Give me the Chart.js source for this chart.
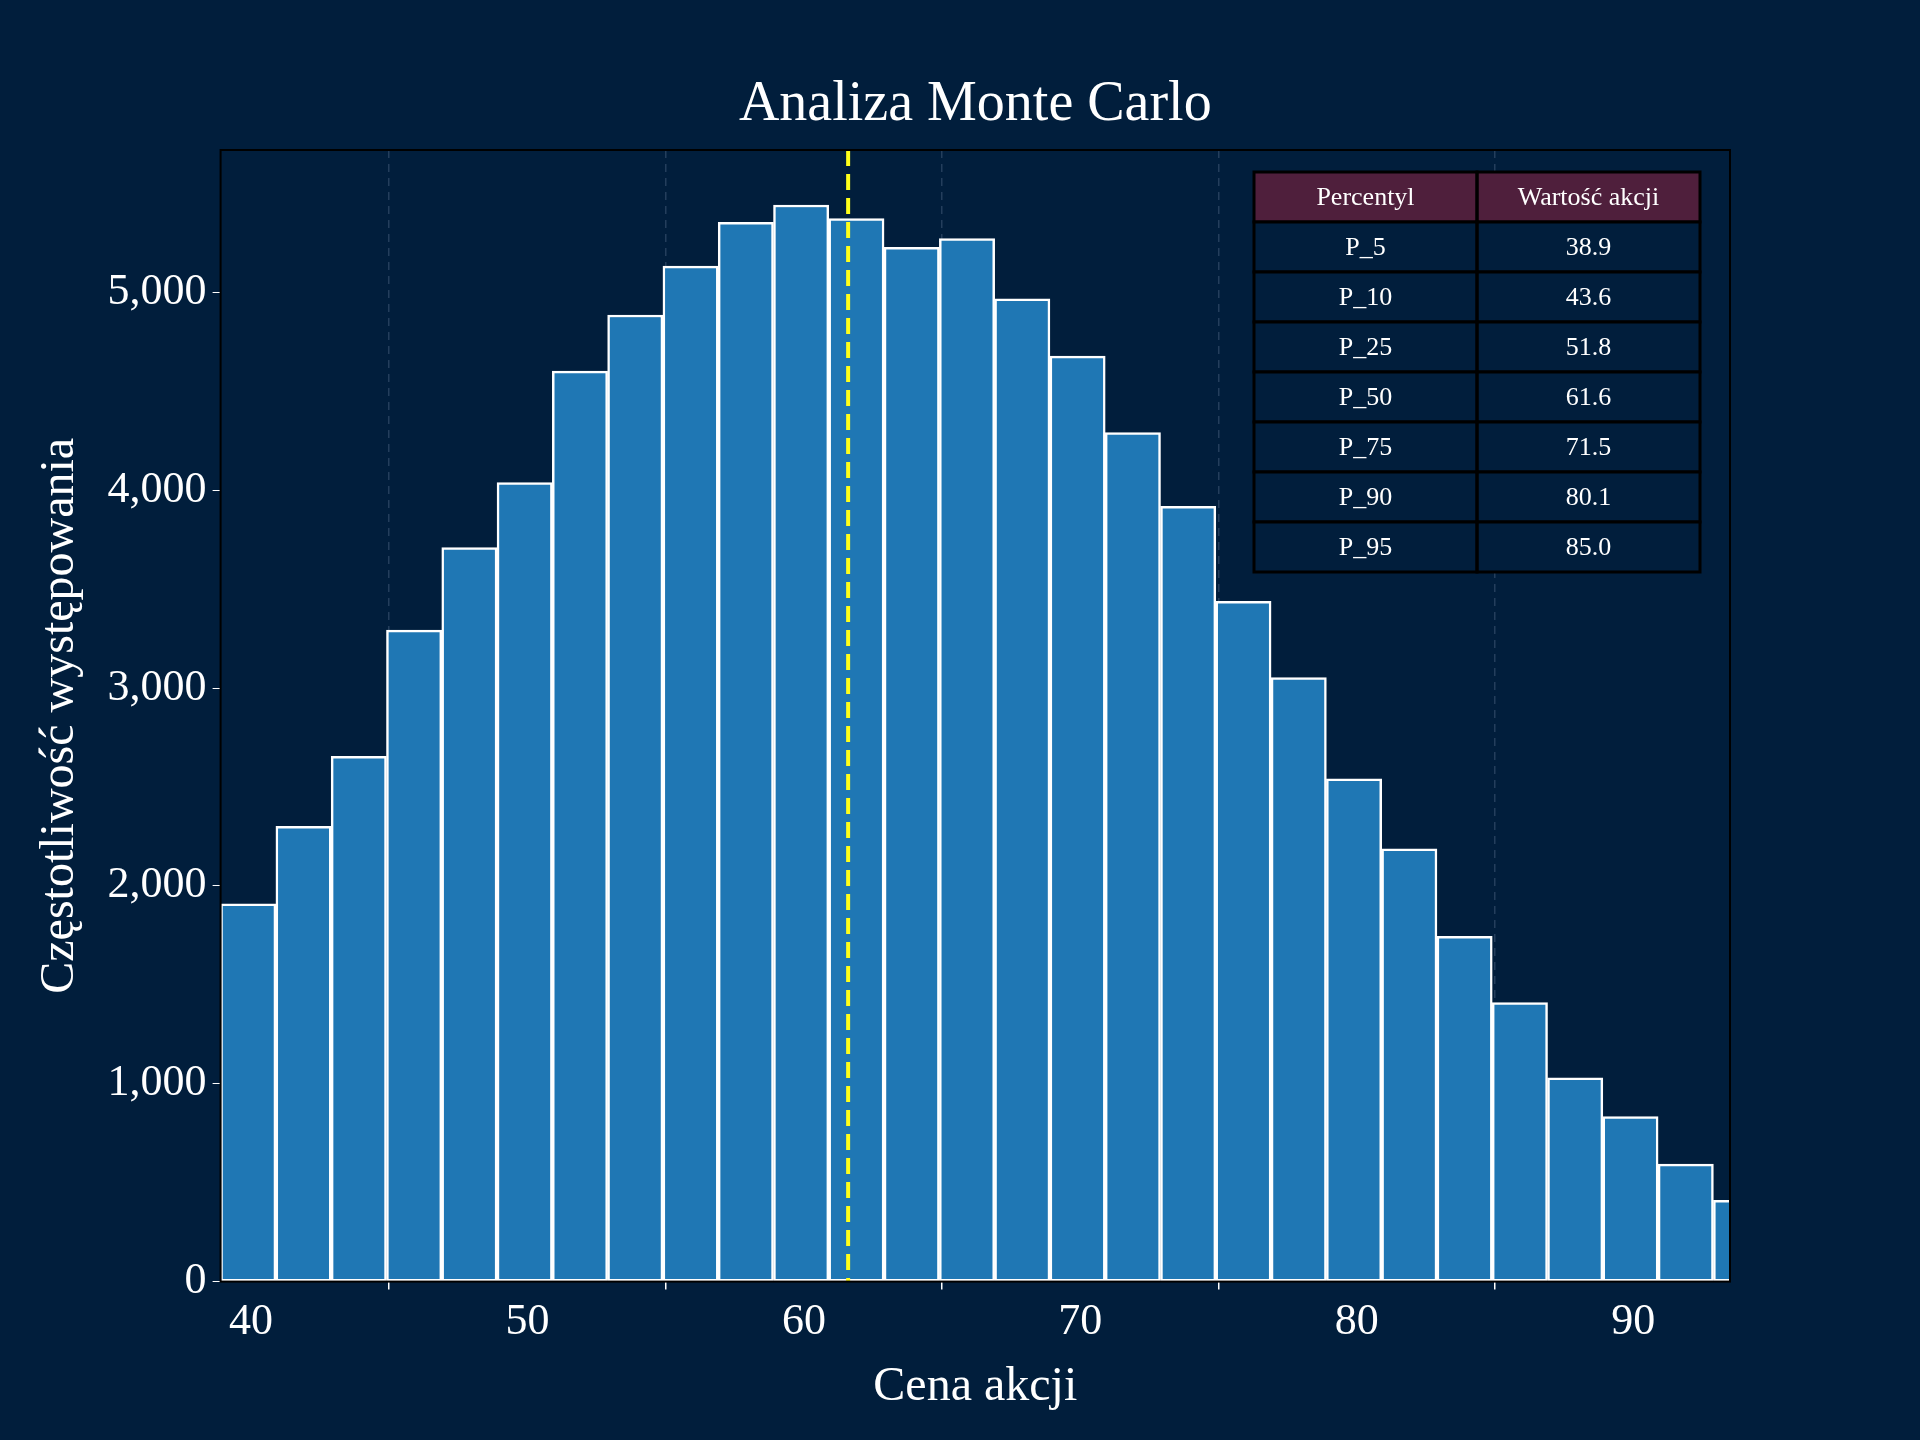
<!DOCTYPE html>
<html><head><meta charset="utf-8">
<script src="https://cdn.jsdelivr.net/npm/chart.js@4"></script>
<style>html,body{margin:0;padding:0;background:#011e3c;}#w{width:1920px;height:1440px;}</style>
</head><body><div id="w"><canvas id="c"></canvas></div>
<script>
const binCenters=[39.9,41.9,43.9,45.9,47.9,49.9,51.9,53.9,55.9,57.9,59.9,61.9,63.9,65.9,67.9,69.9,71.9,73.9,75.9,77.9,79.9,81.9,83.9,85.9,87.9,89.9,91.9,93.9];
const counts=[1909,2301,2655,3293,3710,4039,4602,4886,5133,5354,5442,5373,5228,5272,4968,4678,4292,3919,3439,3053,2541,2187,1745,1410,1030,834,594,411];
const xTicks=[40,50,60,70,80,90];
const yTicks=[0,1000,2000,3000,4000,5000];
const percentileLabels=["P_5","P_10","P_25","P_50","P_75","P_90","P_95"];
const percentileValues=["38.9","43.6","51.8","61.6","71.5","80.1","85.0"];
const medianValue=61.6;
const titleText='Analiza Monte Carlo';
const FONT="'Liberation Serif','Times New Roman',serif";

const extras={id:'extras',
 afterDatasetsDraw(ch){
  const {ctx,chartArea:a,scales:{x}}=ch;
  ctx.save();
  ctx.beginPath();ctx.rect(a.left,a.top,a.right-a.left,a.bottom-a.top);ctx.clip();
  const px=x.getPixelForValue(medianValue);
  ctx.strokeStyle='#ffff1a';ctx.lineWidth=4;ctx.setLineDash([16,8]);
  ctx.beginPath();ctx.moveTo(px,a.top);ctx.lineTo(px,a.bottom);ctx.stroke();
  ctx.restore();
  ctx.save();ctx.strokeStyle='#000';ctx.lineWidth=2;ctx.strokeRect(a.left,a.top,a.right-a.left,a.bottom-a.top);ctx.restore();
  // title
  ctx.save();ctx.fillStyle='#fff';ctx.font='56px '+FONT;ctx.textAlign='center';ctx.textBaseline='middle';
  ctx.fillText(titleText,(a.left+a.right)/2,a.top-45);ctx.restore();
  // table
  ctx.save();
  const x0=a.right-476,x1=a.right-253,x2=a.right-30,y0=a.top+22,rh=50;
  const rows=[["Percentyl","Wartość akcji"]].concat(percentileLabels.map((l,i)=>[l,percentileValues[i]]));
  ctx.font='26px '+FONT;ctx.textAlign='center';ctx.textBaseline='middle';
  rows.forEach((r,i)=>{
   const y=y0+i*rh;
   ctx.fillStyle=i===0?'#4f1f3c':'#011e3c';
   ctx.fillRect(x0,y,x2-x0,rh);
   ctx.strokeStyle='#000';ctx.lineWidth=3;ctx.setLineDash([]);
   ctx.strokeRect(x0,y,x1-x0,rh);ctx.strokeRect(x1,y,x2-x1,rh);
   ctx.fillStyle='#fff';
   ctx.fillText(r[0],(x0+x1)/2,y+rh/2+1);ctx.fillText(r[1],(x1+x2)/2,y+rh/2+1);
  });
  ctx.restore();
 }};

new Chart(document.getElementById('c'),{
 type:'bar',
 data:{datasets:[{data:binCenters.map((c,i)=>({x:c,y:counts[i]})),backgroundColor:'#1f77b4',borderColor:'#ffffff',borderWidth:2.5,barPercentage:1,categoryPercentage:1,borderSkipped:false}]},
 options:{responsive:true,maintainAspectRatio:false,animation:false,devicePixelRatio:1,
  layout:{padding:{left:28,right:190,top:150,bottom:20}},
  plugins:{legend:{display:false},tooltip:{enabled:false},title:{display:false}},
  scales:{
   x:{type:'linear',min:38.9,max:93.5,offset:false,
     afterBuildTicks:s=>{s.ticks=xTicks.map(v=>({value:v}));},
     ticks:{color:'#fff',font:{family:FONT,size:44},padding:6},
     grid:{color:'rgba(120,140,170,0.3)',lineWidth:1.5,drawTicks:true,tickColor:'#fff',tickLength:8},
     border:{display:false,dash:[8,6]},
     title:{display:true,text:'Cena akcji',color:'#fff',font:{family:FONT,size:48},padding:{top:4}}},
   y:{min:0,max:5720,
     afterBuildTicks:s=>{s.ticks=yTicks.map(v=>({value:v}));},
     ticks:{color:'#fff',font:{family:FONT,size:44},padding:6},
     grid:{display:true,drawOnChartArea:false,tickColor:'#fff',tickLength:8},
     border:{display:false},
     title:{display:true,text:'Częstotliwość występowania',color:'#fff',font:{family:FONT,size:48},padding:{bottom:12}}}
  }},
 plugins:[extras]
});
</script></body></html>
